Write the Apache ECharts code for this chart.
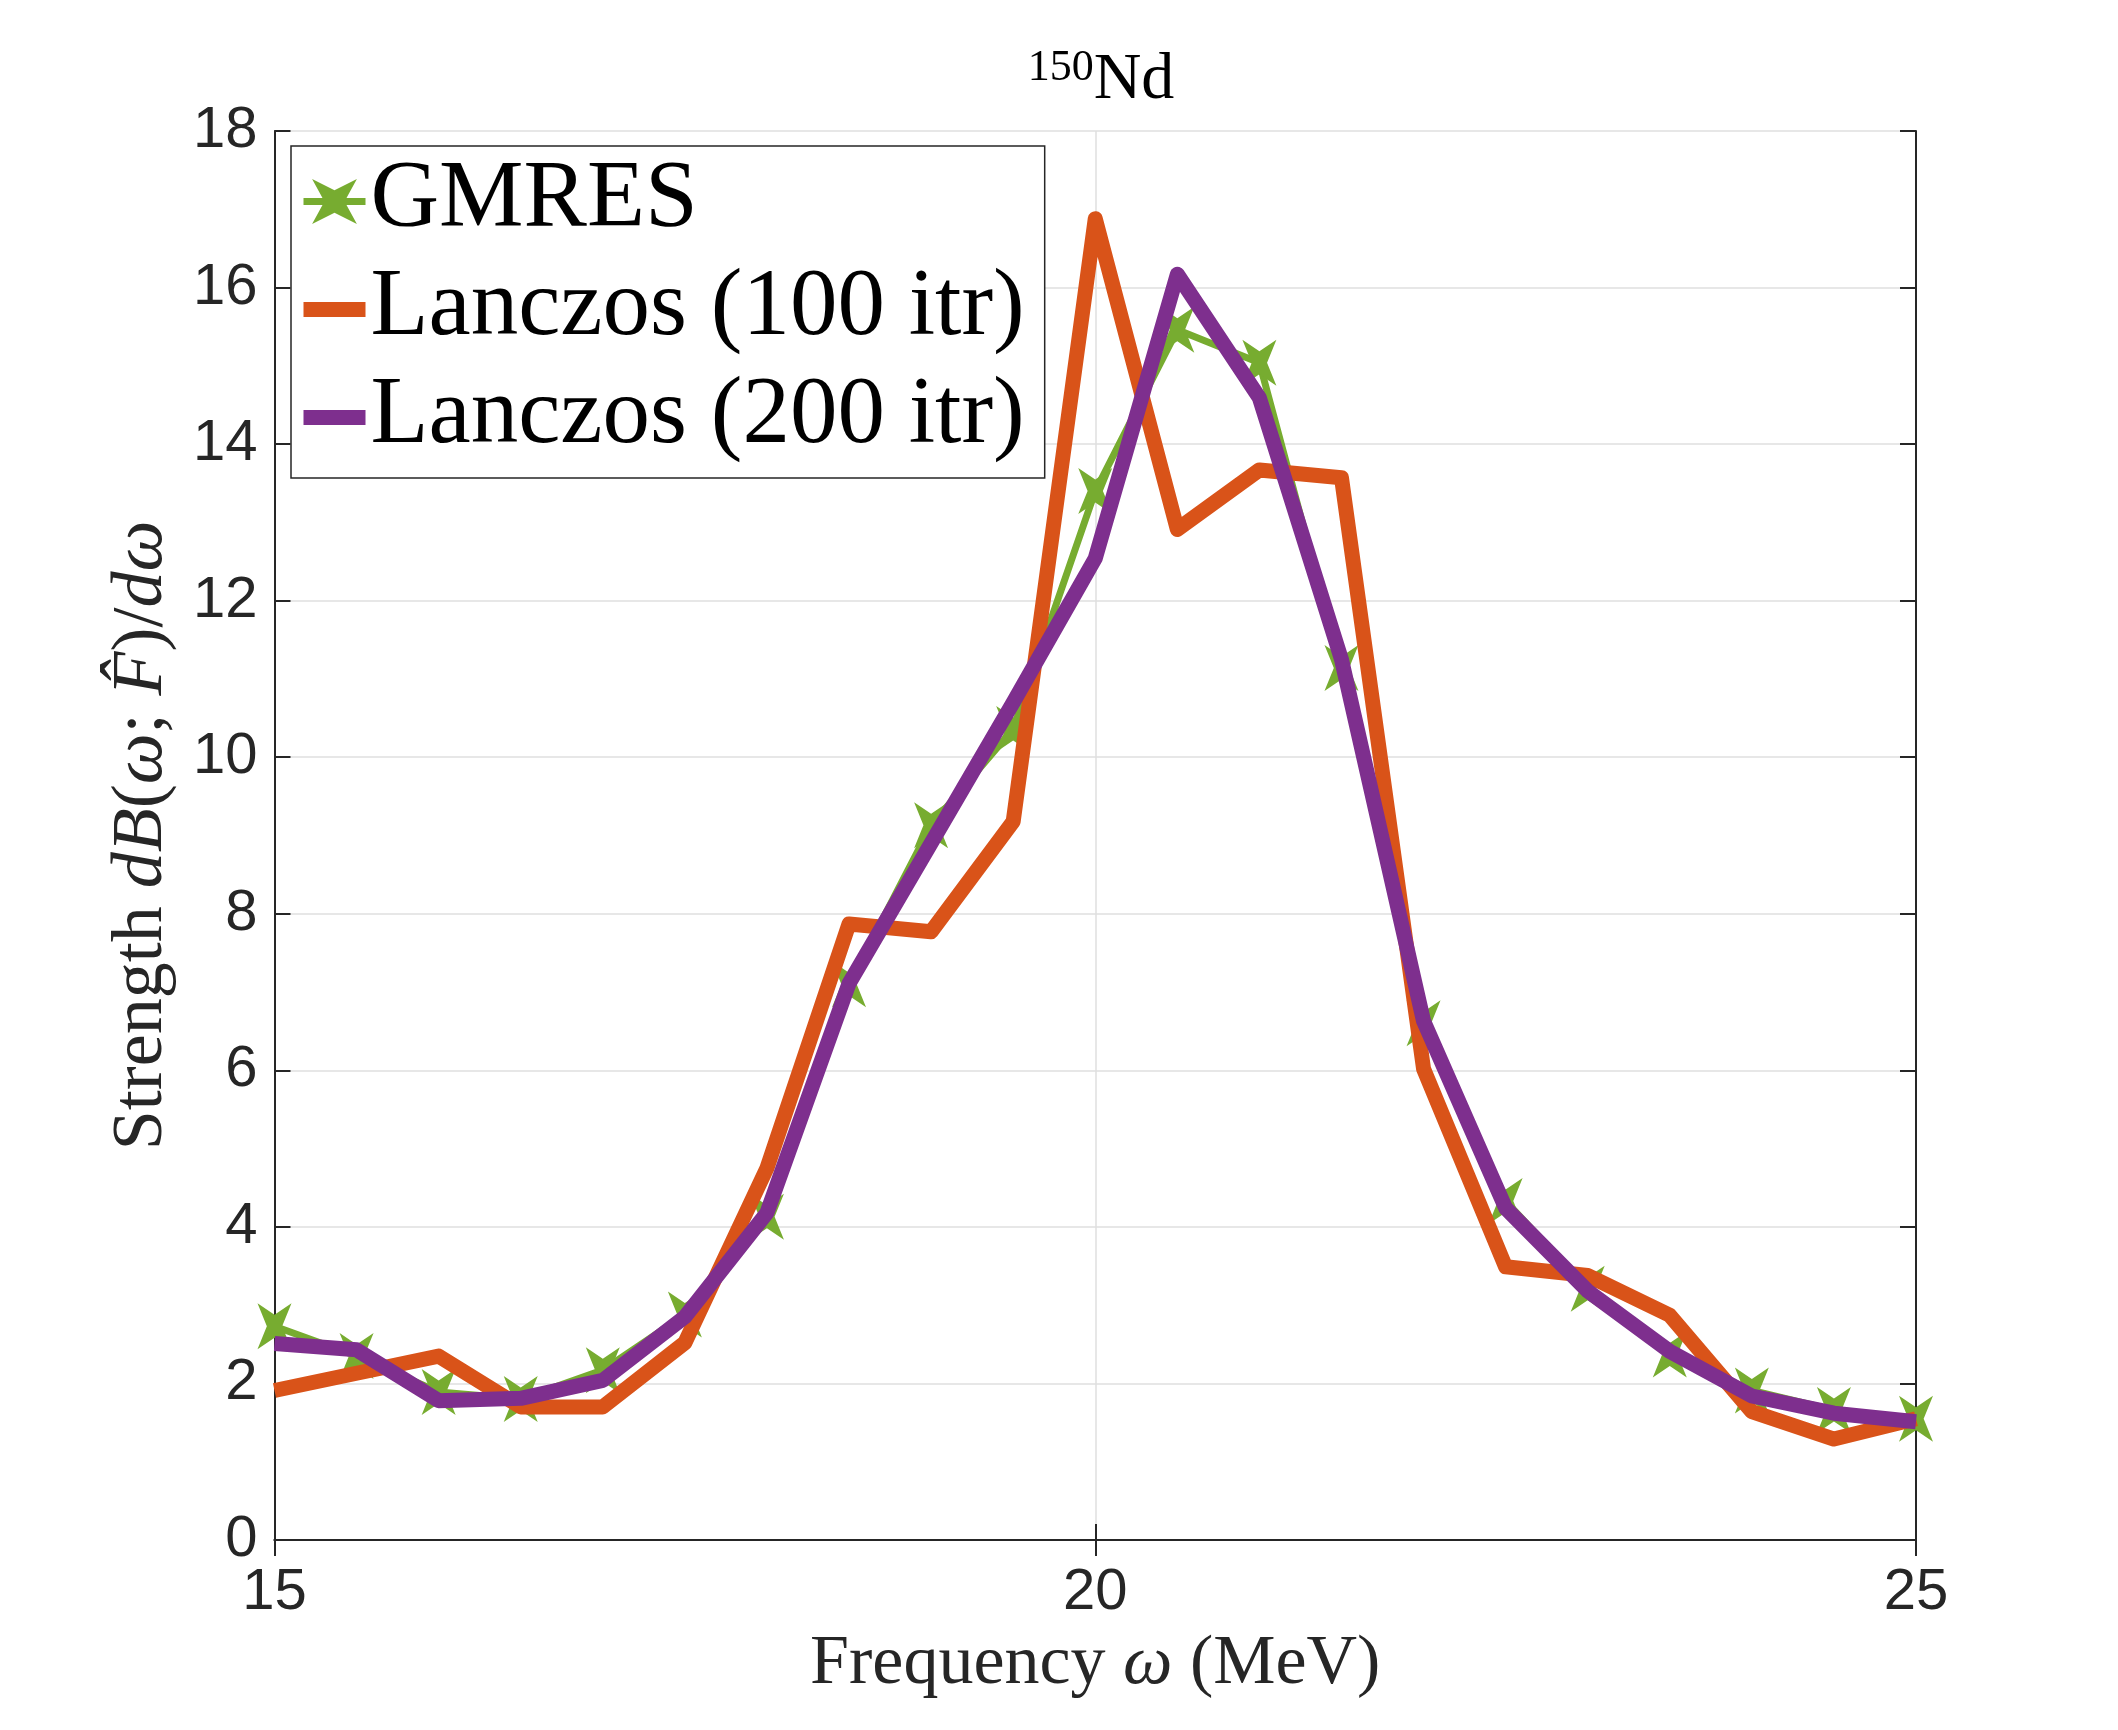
<!DOCTYPE html>
<html>
<head>
<meta charset="utf-8">
<script src="https://cdn.jsdelivr.net/npm/echarts@6/dist/echarts.min.js"></script>
<style>
html,body{margin:0;padding:0;background:#fff;}
#chart{width:2118px;height:1730px;}
</style>
</head>
<body>
<div id="chart"></div>
<script>
const freq = [15, 15.5, 16, 16.5, 17, 17.5, 18, 18.5, 19, 19.5, 20, 20.5, 21, 21.5, 22, 22.5, 23, 23.5, 24, 24.5, 25];
const gmres = [2.73, 2.35, 1.89, 1.80, 2.17, 2.88, 4.13, 7.10, 9.13, 10.36, 13.40, 15.46, 15.04, 11.14, 6.60, 4.33, 3.21, 2.37, 1.91, 1.66, 1.55];
const lanczos100 = [1.91, 2.13, 2.35, 1.70, 1.70, 2.52, 4.75, 7.87, 7.77, 9.18, 16.88, 12.91, 13.67, 13.57, 6.02, 3.49, 3.38, 2.87, 1.64, 1.29, 1.55];
const lanczos200 = [2.51, 2.43, 1.78, 1.81, 2.04, 2.85, 4.18, 7.11, 8.90, 10.70, 12.54, 16.17, 14.59, 11.25, 6.63, 4.24, 3.18, 2.41, 1.84, 1.62, 1.51];
const seriesNames = ['GMRES', 'Lanczos (100 itr)', 'Lanczos (200 itr)'];
const xTicks = [15, 20, 25];
const yTicks = [0, 2, 4, 6, 8, 10, 12, 14, 16, 18];

const pairs = (ys) => freq.map((x, i) => [x, ys[i]]);
const hexagram = 'path://M-1,-1.5 L0,-0.75 L1,-1.5 L0.45,0 L1,1.5 L0,0.75 L-1,1.5 L-0.45,0 Z';

const axisColor = '#262626';
const gridColor = '#dfdfdf';
const serif = '"Liberation Serif", "Times New Roman", serif';
const sans = '"Liberation Sans", Arial, sans-serif';
const hidden = {color: 'rgba(0,0,0,0)', borderWidth: 0, opacity: 0};

const chart = echarts.init(document.getElementById('chart'), null, {renderer: 'canvas'});
chart.setOption({
  backgroundColor: '#ffffff',
  animation: false,
  title: {
    text: '{s|150}{n|Nd}',
    left: 1096, textAlign: 'center', top: 41,
    textStyle: {
      fontWeight: 'normal',
      rich: {
        s: {fontFamily: serif, fontSize: 44, fontWeight: 'normal', color: '#000', verticalAlign: 'top', lineHeight: 70},
        n: {fontFamily: serif, fontSize: 66, fontWeight: 'normal', color: '#000', lineHeight: 70}
      }
    }
  },
  legend: {
    orient: 'vertical',
    left: 291, top: 146,
    padding: [8, 20, 13, 5],
    backgroundColor: '#fff',
    borderColor: '#262626', borderWidth: 1.5,
    itemWidth: 62, itemHeight: 56, itemGap: 13,
    data: [
      {name: seriesNames[0]},
      {name: seriesNames[1], itemStyle: hidden},
      {name: seriesNames[2], itemStyle: hidden}
    ],
    textStyle: {fontFamily: serif, fontSize: 95, color: '#000', lineHeight: 95},
    lineStyle: {width: 'inherit'}
  },
  grid: {left: 274.5, right: 202, top: 131, bottom: 190, containLabel: false},
  xAxis: [{
    type: 'value', min: 15, max: 25, interval: 5,
    name: '{r|Frequency }{i|ω}{r| (MeV)}',
    nameLocation: 'middle', nameGap: 90,
    nameTextStyle: {rich: {
      r: {fontFamily: serif, fontSize: 70, color: '#262626'},
      i: {fontFamily: serif, fontSize: 70, fontStyle: 'italic', color: '#262626'}
    }},
    axisLine: {show: true, lineStyle: {color: axisColor, width: 2}},
    axisTick: {show: true, inside: true, length: 16, lineStyle: {color: axisColor, width: 2}},
    axisLabel: {margin: 24, fontFamily: sans, fontSize: 58, color: '#262626',
      formatter: (v) => xTicks.includes(v) ? String(v) : ''},
    splitLine: {show: true, lineStyle: {color: gridColor, width: 1.5}}
  }, {
    type: 'value', min: 15, max: 25, interval: 5, position: 'top',
    axisLine: {show: true, lineStyle: {color: axisColor, width: 2}},
    axisTick: {show: true, inside: true, length: 16, lineStyle: {color: axisColor, width: 2}},
    axisLabel: {show: false}, splitLine: {show: false}
  }],
  yAxis: [{
    type: 'value', min: 0, max: 18, interval: 2,
    name: '{r|Strength }{i|dB}{r|(}{i|ω}{r|; }{i|F̂}{r|)/}{i|dω}',
    nameLocation: 'middle', nameGap: 96, nameRotate: 90,
    nameTextStyle: {rich: {
      r: {fontFamily: serif, fontSize: 72, color: '#262626'},
      i: {fontFamily: serif, fontSize: 72, fontStyle: 'italic', color: '#262626'}
    }},
    axisLine: {show: true, lineStyle: {color: axisColor, width: 2}},
    axisTick: {show: true, inside: true, length: 16, lineStyle: {color: axisColor, width: 2}},
    axisLabel: {margin: 17, fontFamily: sans, fontSize: 58, color: '#262626',
      formatter: (v) => yTicks.includes(v) ? String(v) : ''},
    splitLine: {show: true, lineStyle: {color: gridColor, width: 1.5}}
  }, {
    type: 'value', min: 0, max: 18, interval: 2, position: 'right',
    axisLine: {show: true, lineStyle: {color: axisColor, width: 2}},
    axisTick: {show: true, inside: true, length: 16, lineStyle: {color: axisColor, width: 2}},
    axisLabel: {show: false}, splitLine: {show: false}
  }],
  series: [{
    name: seriesNames[0], type: 'line', data: pairs(gmres),
    symbol: hexagram, symbolSize: [34, 46], showSymbol: true,
    color: '#77AC30',
    itemStyle: {color: '#77AC30'},
    lineStyle: {color: '#77AC30', width: 7, join: 'round', cap: 'butt'},
    z: 2
  }, {
    name: seriesNames[1], type: 'line', data: pairs(lanczos100),
    symbol: 'none', color: '#D95319',
    lineStyle: {color: '#D95319', width: 15, join: 'round', cap: 'butt'},
    z: 3
  }, {
    name: seriesNames[2], type: 'line', data: pairs(lanczos200),
    symbol: 'none', color: '#7E2F8E',
    lineStyle: {color: '#7E2F8E', width: 15, join: 'round', cap: 'butt'},
    z: 4
  }]
});
</script>
</body>
</html>
